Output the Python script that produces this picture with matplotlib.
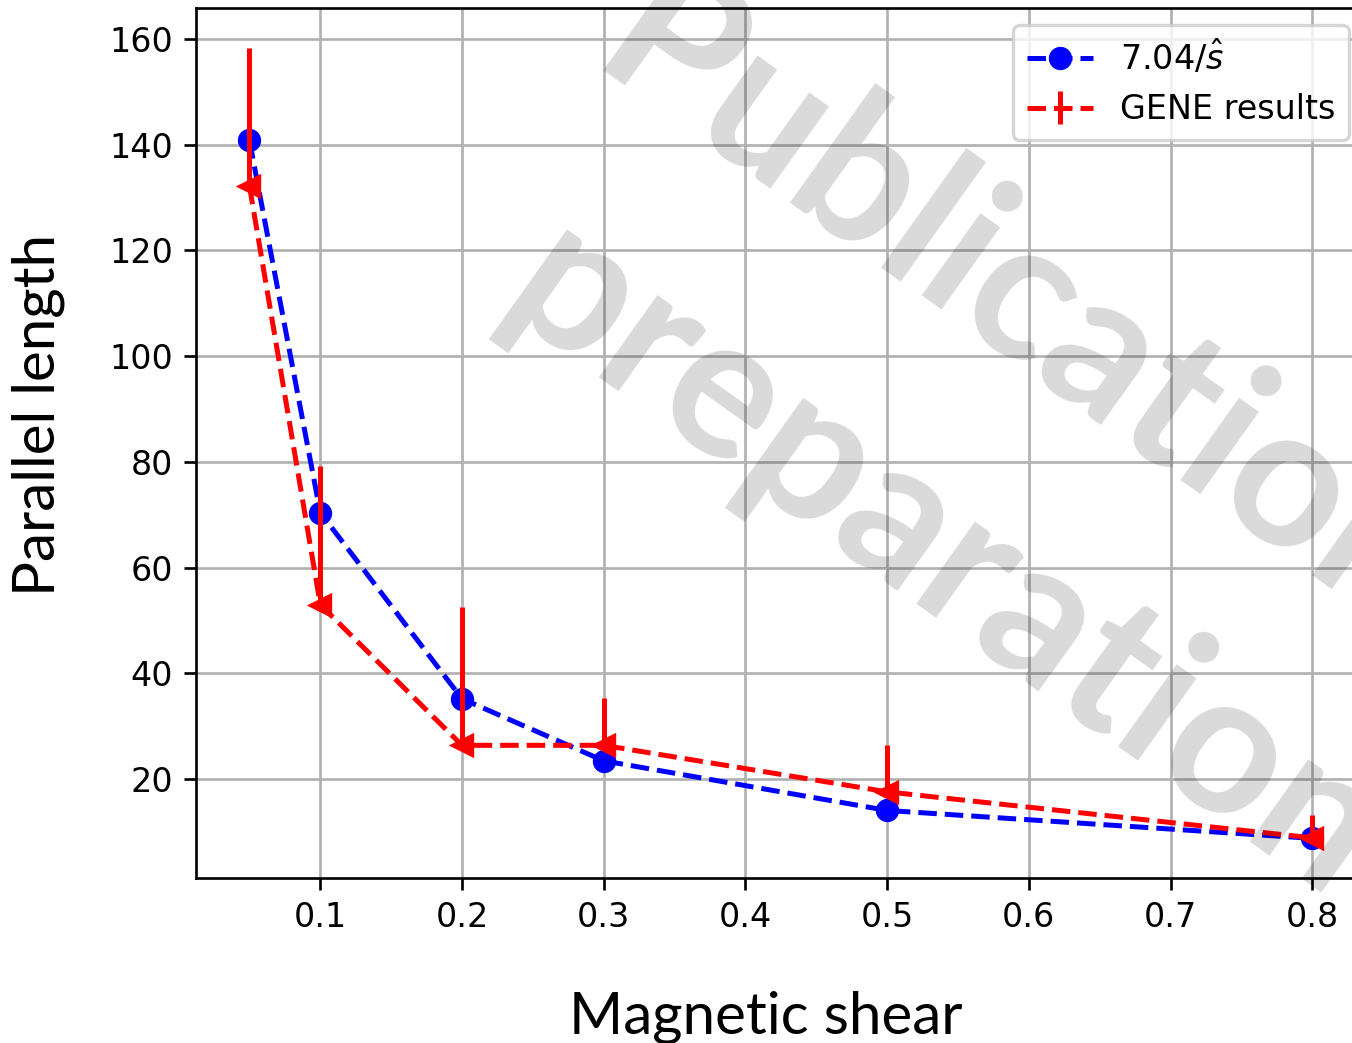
import matplotlib
matplotlib.use('Agg')
import matplotlib.pyplot as plt

# magnetic shear scan
shear = [0.05, 0.1, 0.2, 0.3, 0.5, 0.8]
fit_length = [140.8, 70.4, 35.2, 23.47, 14.08, 8.8]
gene_length = [132.2, 53.0, 26.4, 26.4, 17.6, 8.9]
gene_err_up = [26.1, 26.2, 26.2, 8.9, 8.9, 4.3]
gene_err_down = [0, 0, 0, 0, 0, 0]

DPI = 240
W, H = 1352, 1043


def px(x, y):
    # pixel position -> figure fraction
    return x / W, 1 - y / H


fig = plt.figure(figsize=(W / DPI, H / DPI), dpi=DPI)
ax = fig.add_axes([0.1452, 0.1583, 0.8647, 0.8336])

ax.plot(shear, fit_length, 'bo--', label=r'$7.04/\hat{s}$')
ax.errorbar(shear, gene_length, yerr=[gene_err_down, gene_err_up],
            fmt='r--', label='GENE results')
ax.plot(shear, gene_length, 'r<', linestyle='none')
ax.grid(True)
ax.legend(loc='upper right')

label_font = dict(family=['Lato', 'DejaVu Sans'], fontsize=17.5)
fig.text(*px(766, 1033), 'Magnetic shear', ha='center', va='baseline', **label_font)
fig.text(*px(55, 415), 'Parallel length', ha='center', va='baseline',
         rotation=90, rotation_mode='anchor', **label_font)

# draft watermark
mark = dict(rotation=-35.5, rotation_mode='anchor', ha='left', va='baseline',
            fontsize=59, family=['Lato', 'DejaVu Sans'], weight='bold',
            color='black', alpha=0.15, zorder=10)
fig.text(*px(590, 60), 'Publication in', **mark)
fig.text(*px(495, 312), 'preparation', **mark)

fig.savefig('out.png', dpi=DPI)
